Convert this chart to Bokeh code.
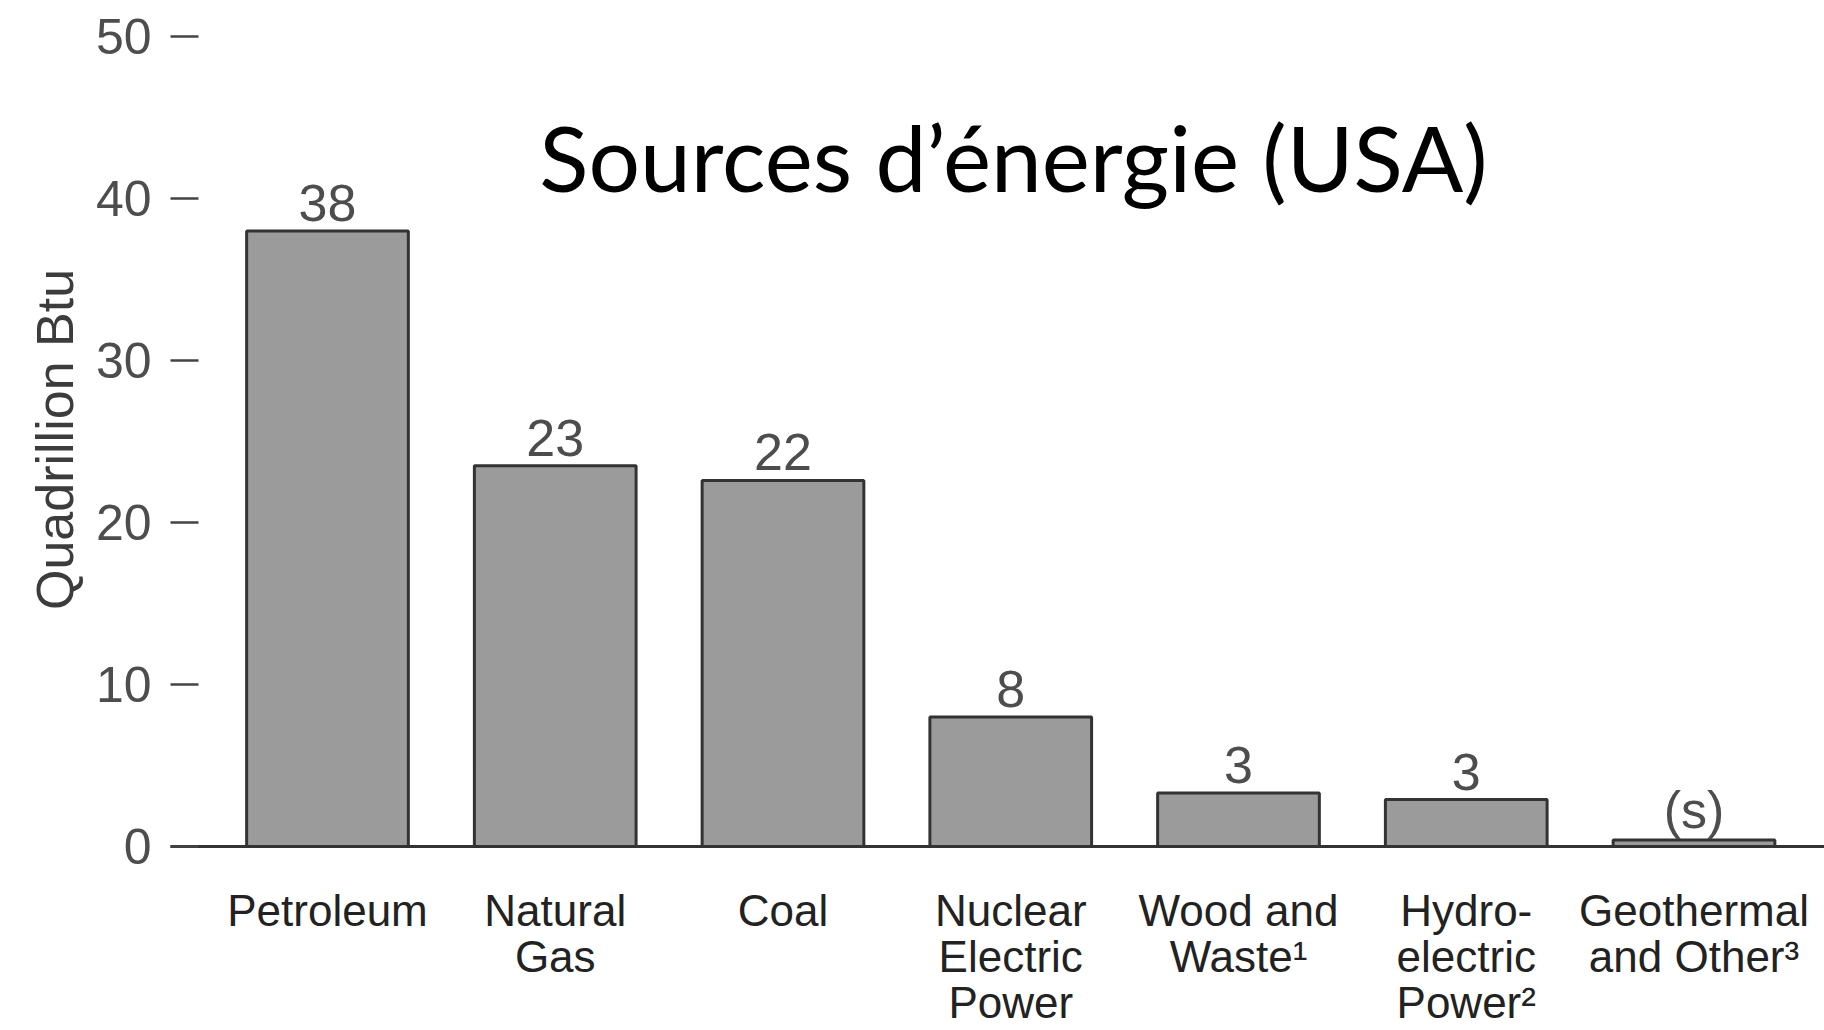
from bokeh.plotting import figure
from bokeh.models import Range1d, FixedTicker, Label, ColumnDataSource
from bokeh.core.properties import value
from bokeh.embed import file_html
from bokeh.resources import INLINE

# ---- data ----
categories = ["Petroleum", "Natural\nGas", "Coal", "Nuclear\nElectric\nPower",
              "Wood and\nWaste\u00b9", "Hydro-\nelectric\nPower\u00b2", "Geothermal\nand Other\u00b3"]
values = [38.0, 23.5, 22.6, 8.0, 3.3, 2.9, 0.4]
value_labels = ["38", "23", "22", "8", "3", "3", "(s)"]
y_ticks = [0, 10, 20, 30, 40, 50]
title_text = "Sources d\u2019\u00e9nergie (USA)"
y_title = "Quadrillion Btu"

positions = list(range(1, len(categories) + 1))
# value labels sit just above each bar (kept clear of the zero line for tiny bars)
label_y = [max(v, 1.2) for v in values]
src = ColumnDataSource(dict(x=positions, top=values, vlab=value_labels, ly=label_y))

FONT = "Liberation Sans"

p = figure(width=1824, height=1030, output_backend="svg", toolbar_location=None,
           x_range=Range1d(0.3107, 7.573), y_range=Range1d(0, 50.25),
           min_border_left=170, min_border_right=0, min_border_top=32, min_border_bottom=182)
p.xgrid.visible = False
p.ygrid.visible = False
p.outline_line_color = None
p.background_fill_color = "white"
p.border_fill_color = "white"

# y axis: ticks only, no axis line
yax = p.yaxis[0]
yax.ticker = FixedTicker(ticks=y_ticks)
yax.axis_line_color = None
yax.major_tick_in = 28
yax.major_tick_out = 0
yax.major_tick_line_width = 2.5
yax.major_tick_line_color = "#444444"
yax.minor_tick_line_color = None
yax.major_label_text_font = FONT
yax.major_label_text_font_size = "50px"
yax.major_label_text_color = "#4d4d4d"
yax.major_label_standoff = 19
yax.axis_label = y_title
yax.axis_label_text_font = FONT
yax.axis_label_text_font_size = "52px"
yax.axis_label_text_font_style = "normal"
yax.axis_label_text_color = "#3c3c3c"
yax.axis_label_standoff = 9

# x axis: the zero baseline with category labels
xax = p.xaxis[0]
xax.ticker = FixedTicker(ticks=positions)
xax.major_label_overrides = {pos: cat for pos, cat in zip(positions, categories)}
xax.axis_line_color = "#333333"
xax.axis_line_width = 3
xax.major_tick_in = 0
xax.major_tick_out = 0
xax.minor_tick_line_color = None
xax.major_label_text_font = FONT
xax.major_label_text_font_size = "44px"
xax.major_label_text_color = "#222222"
xax.major_label_text_line_height = 0.946
xax.major_label_standoff = 39

p.vbar(x="x", top="top", bottom=0, width=0.71, source=src,
       fill_color="#9b9b9b", line_color="#333333", line_width=3)

p.text(x="x", y="ly", text="vlab", source=src, text_align="center",
       text_baseline="top", y_offset=-46, text_line_height=1.0,
       text_font=value(FONT), text_font_size="52px", text_color="#4d4d4d")

p.add_layout(Label(x=843, y=690, x_units="screen", y_units="screen", text=title_text,
                   text_align="center", text_baseline="alphabetic",
                   text_font="Lato", text_font_size="91px", text_color="black"))

open("out.html", "w").write(file_html(p, INLINE))
